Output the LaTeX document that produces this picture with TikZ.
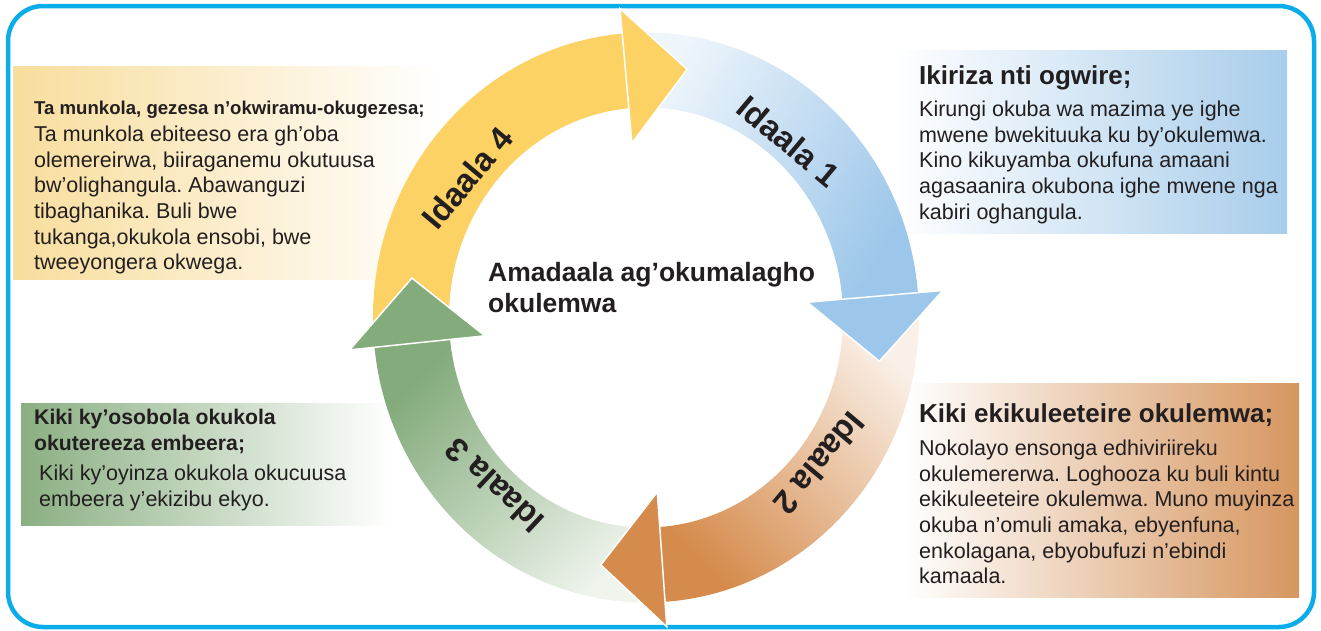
\documentclass[tikz,border=0pt]{standalone}
\usepackage{fontspec}
\setmainfont{Liberation Sans}
\usetikzlibrary{calc}
\definecolor{ink}{HTML}{231F20}
\definecolor{frameblue}{HTML}{0AACEA}
\definecolor{ylw}{HTML}{FCD265}
\definecolor{blueL}{HTML}{EEF5FB}
\definecolor{blueD}{HTML}{9CC6EA}
\definecolor{orngL}{HTML}{FAF0E7}
\definecolor{orngD}{HTML}{D58B4C}
\definecolor{grnL}{HTML}{EFF4ED}
\definecolor{grnD}{HTML}{83AB7B}
\definecolor{ylwbox}{HTML}{F8DD9C}
\definecolor{grnbox}{HTML}{8AAF82}
\definecolor{bluebox}{HTML}{A8CDEB}
\definecolor{orngbox}{HTML}{D69660}
\frenchspacing

\begin{document}
\begin{tikzpicture}[x=1pt, y=1pt,
      txt/.style={anchor=north west, inner sep=0pt, align=left, text=ink, font=\fontsize{21.5}{25.6}\selectfont},
      head/.style={txt, font=\fontsize{26}{30}\selectfont\bfseries},
      stepname/.style={inner sep=0pt, text=ink, font=\fontsize{33}{33}\selectfont\bfseries},
      headtri/.style={draw=white, line width=1.5pt}
    ]
    \useasboundingbox (0,0) rectangle (1321,-630);
    \draw[frameblue, line width=4.5pt, rounded corners=35pt] (8,-6) rectangle (1314,-627);

    % text boxes
    \shade[left color=ylwbox, right color=white] (13,-66) rectangle (440,-279);
    \shade[left color=grnbox, middle color=grnbox!55, right color=white] (21,-403) rectangle (390,-525);
    \shade[left color=white, right color=bluebox] (895,-50) rectangle (1287,-233);
    \shade[left color=white, right color=orngbox] (905,-383) rectangle (1299,-597);

    % the ring of four arrows
    \coordinate (C) at (646,-317.5);
    \foreach \from/\to/\light/\dark/\ang in {184/95/ylw/ylw/0, 92/5/blueL/blueD/60, 2/-86/orngL/orngD/-45, -88/-174/grnL/grnD/-135}
      \shade[top color=\light, bottom color=\dark, shading angle=\ang]
        ($(C)+(\from:273 and 285)$) arc[start angle=\from, end angle=\to, x radius=273, y radius=285]
        -- ($(C)+(\to:197 and 210)$) arc[start angle=\to, end angle=\from, x radius=197, y radius=210] -- cycle;
    \foreach \to/\dark in {95/ylw, 5/blueD, -86/orngD, -174/grnD}
      \filldraw[fill=\dark, headtri] ($(C)+(\to:298 and 310)$) -- ($(C)+({\to-15}:237 and 252)$)
        -- ($(C)+(\to:162 and 175)$) -- cycle;

    \node[stepname, rotate=-40] (s1) at ($(C)+(51:227)$) {Idaala 1};
    \node[stepname, rotate=-130] (s2) at ($(C)+(-40:227)$) {Idaala 2};
    \node[stepname, rotate=137] (s3) at ($(C)+(-132:227)$) {Idaala 3};
    \node[stepname, rotate=50] (s4) at ($(C)+(142:227)$) {Idaala 4};

    \node[head, font=\fontsize{26.5}{31}\selectfont\bfseries] (title) at (488,-262) {Amadaala ag’okumalagho\\okulemwa};

    % step 1
    \node[head] (h1) at (919,-65) {Ikiriza nti ogwire;};
    \node[txt] (t1) at (919,-101) {Kirungi okuba wa mazima ye ighe\\mwene bwekituuka ku by’okulemwa.\\Kino kikuyamba okufuna amaani\\agasaanira okubona ighe mwene nga\\kabiri oghangula.};

    % step 2
    \node[head] (h2) at (919,-403) {Kiki ekikuleeteire okulemwa;};
    \node[txt] (t2) at (919,-440) {Nokolayo ensonga edhiviriireku\\okulemererwa. Loghooza ku buli kintu\\ekikuleeteire okulemwa. Muno muyinza\\okuba n’omuli amaka, ebyenfuna,\\enkolagana, ebyobufuzi n’ebindi\\kamaala.};

    % step 3
    \node[head, font=\fontsize{21.2}{25.6}\selectfont\bfseries] (h3) at (34,-409) {Kiki ky’osobola okukola\\okutereeza embeera;};
    \node[txt] (t3) at (39,-465) {Kiki ky’oyinza okukola okucuusa\\embeera y’ekizibu ekyo.};

    % step 4
    \node[head, font=\fontsize{18.6}{22}\selectfont\bfseries] (h4) at (34,-101) {Ta munkola, gezesa n’okwiramu-okugezesa;};
    \node[txt] (t4) at (34,-126) {Ta munkola ebiteeso era gh’oba\\olemereirwa, biiraganemu okutuusa\\bw’olighangula. Abawanguzi\\tibaghanika. Buli bwe\\tukanga,okukola ensobi, bwe\\tweeyongera okwega.};
  \end{tikzpicture}
\end{document}
